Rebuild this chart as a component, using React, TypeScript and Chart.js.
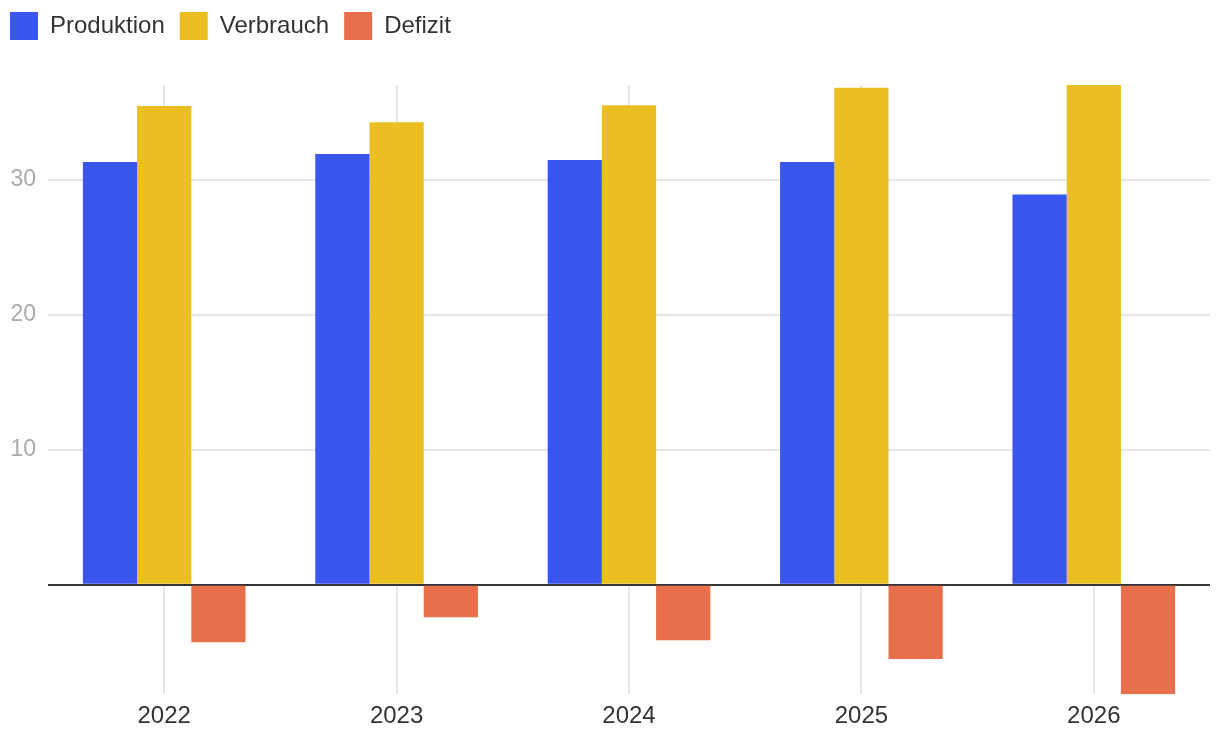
import React, { useEffect, useRef } from "react";
import { Chart, registerables } from "chart.js";

Chart.register(...registerables);

const years = ["2022", "2023", "2024", "2025", "2026"];
const produktion = [31.3, 31.9, 31.45, 31.3, 28.9];
const verbrauch = [35.45, 34.25, 35.5, 36.8, 37.0];
const defizit = [-4.25, -2.4, -4.1, -5.5, -8.1];

const colors = ["#3b55ef", "#ebbe22", "#e86f4b"];
const seriesNames = ["Produktion", "Verbrauch", "Defizit"];

const FONT = "Liberation Sans, Arial, Helvetica, sans-serif";

const legendSpacer = {
  id: "legendSpacer",
  beforeInit(chart: any) {
    const legend = chart.legend;
    if (!legend) return;
    const origFit = legend.fit;
    legend.fit = function () {
      origFit.bind(legend)();
      this.height += 35;
    };
  },
};

export default function App() {
  const ref = useRef<HTMLCanvasElement | null>(null);

  useEffect(() => {
    if (!ref.current) return;
    const allValues = [...produktion, ...verbrauch, ...defizit];
    const chart = new Chart(ref.current, {
      type: "bar",
      data: {
        labels: years,
        datasets: [produktion, verbrauch, defizit].map((d, i) => ({
          label: seriesNames[i],
          data: d,
          backgroundColor: colors[i],
          borderWidth: 0,
          categoryPercentage: 0.7,
          barPercentage: 1.0,
        })),
      },
      plugins: [legendSpacer],
      options: {
        animation: false,
        responsive: true,
        maintainAspectRatio: false,
        layout: { padding: { left: -5, right: 10, top: -3, bottom: 7 } },
        plugins: {
          tooltip: { enabled: false },
          legend: {
            position: "top",
            align: "start",
            labels: {
              boxWidth: 28,
              boxHeight: 28,
              padding: 15,
              color: "#333",
              font: { family: FONT, size: 24 },
            },
          },
        },
        scales: {
          x: {
            grid: {
              offset: false,
              color: "#e6e6e6",
              lineWidth: 2,
              drawTicks: false,
            },
            border: { display: false },
            ticks: {
              color: "#333",
              padding: 8,
              font: { family: FONT, size: 24 },
            },
          },
          y: {
            min: Math.min(...allValues),
            max: Math.max(...allValues),
            border: { display: false },
            afterFit: (scale: any) => {
              scale.width = 53;
            },
            grid: {
              drawTicks: false,
              color: (ctx: any) => (ctx.tick && ctx.tick.value === 0 ? "#333" : "#e6e6e6"),
              lineWidth: 2,
            },
            ticks: {
              stepSize: 10,
              includeBounds: false,
              padding: 12,
              color: "#aaa",
              font: { family: FONT, size: 23 },
              callback: (v: any) => (v === 0 ? "" : String(v)),
            },
          },
        },
      },
    });
    return () => chart.destroy();
  }, []);

  return (
    <div style={{ position: "fixed", left: 0, top: 0, width: 1220, height: 746 }}>
      <canvas ref={ref} />
    </div>
  );
}
